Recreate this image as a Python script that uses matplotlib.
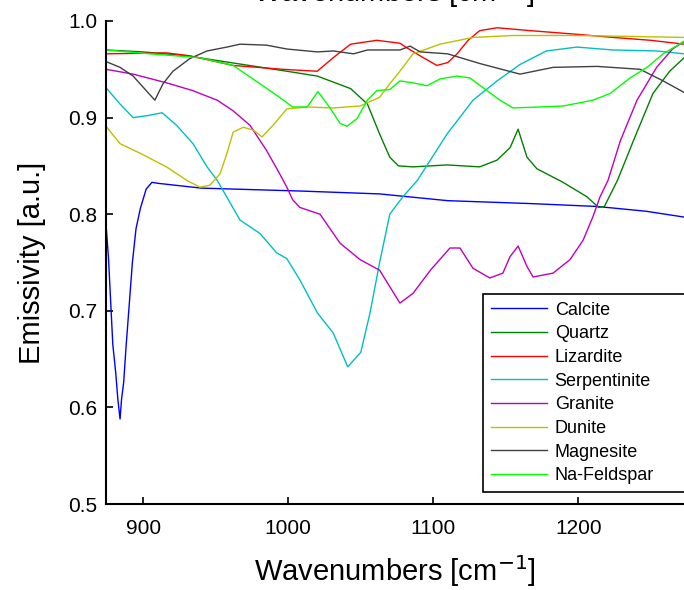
import matplotlib
matplotlib.use("Agg")
import matplotlib.pyplot as plt

plt.rcParams["font.family"] = ["Liberation Sans", "DejaVu Sans"]

# ── Spectra (wavenumber, emissivity) ─────────────────────────────────────────
calcite_x = [874.3, 876, 877.5, 879, 881, 882.5, 884, 885, 886.5, 888, 890, 892.5,
             895, 898, 902, 906, 910, 940, 1008, 1063, 1110, 1167, 1213, 1247, 1273]
calcite_y = [0.79, 0.755, 0.71, 0.665, 0.636, 0.608, 0.588, 0.608, 0.626, 0.66, 0.70, 0.75,
             0.785, 0.806, 0.826, 0.833, 0.832, 0.827, 0.824, 0.821, 0.814, 0.811, 0.808, 0.803, 0.797]

quartz_x = [874.3, 900, 930, 960, 999, 1020, 1043, 1054.6, 1063, 1070, 1076, 1086, 1109.5,
            1132, 1144, 1153, 1158.5, 1164.6, 1171.5, 1189.5, 1206, 1214, 1218, 1227, 1238,
            1251.5, 1263, 1273]
quartz_y = [0.97, 0.968, 0.964, 0.957, 0.948, 0.943, 0.93, 0.914, 0.883, 0.859, 0.85, 0.849, 0.851,
            0.849, 0.856, 0.869, 0.888, 0.859, 0.847, 0.833, 0.818, 0.807, 0.808, 0.835, 0.876,
            0.925, 0.948, 0.962]

lizardite_x = [874.3, 916, 932, 962, 996, 1020, 1031, 1043, 1061, 1077, 1082, 1092, 1102.5,
               1110, 1116.4, 1124, 1132, 1144, 1167, 1201, 1224, 1250, 1273]
lizardite_y = [0.966, 0.967, 0.964, 0.954, 0.95, 0.948, 0.962, 0.976, 0.98, 0.977, 0.972, 0.963, 0.954,
               0.957, 0.966, 0.98, 0.99, 0.993, 0.99, 0.986, 0.983, 0.98, 0.976]

serpentinite_x = [874.3, 884, 893, 902.6, 913, 923, 934.3, 944, 951, 966.7, 980.5, 992, 999, 1008,
                  1020, 1031, 1041, 1050, 1056.4, 1063, 1070, 1079, 1089, 1098, 1109.5, 1127.4,
                  1144, 1159.8, 1178, 1199, 1224, 1254, 1273]
serpentinite_y = [0.931, 0.914, 0.90, 0.902, 0.905, 0.892, 0.873, 0.849, 0.835, 0.794, 0.78, 0.76, 0.754, 0.732,
                  0.698, 0.677, 0.642, 0.657, 0.698, 0.75, 0.80, 0.818, 0.835, 0.856, 0.883, 0.918,
                  0.938, 0.955, 0.969, 0.973, 0.97, 0.969, 0.966]

granite_x = [874.3, 893, 916, 934, 951, 962, 973.6, 985, 994, 999, 1003, 1008, 1021.9, 1035.7,
             1049.5, 1063, 1070, 1077, 1086, 1098, 1111.5, 1118.4, 1127.4, 1139, 1148, 1152.9,
             1158.5, 1164.6, 1168.8, 1182.6, 1194.3, 1203.3, 1210, 1215, 1220.5, 1229, 1240.5,
             1254, 1265, 1273]
granite_y = [0.95, 0.945, 0.936, 0.928, 0.918, 0.907, 0.892, 0.866, 0.842, 0.828, 0.815, 0.807, 0.80, 0.77,
             0.753, 0.742, 0.725, 0.708, 0.718, 0.742, 0.765, 0.765, 0.744, 0.734, 0.739, 0.756,
             0.767, 0.746, 0.735, 0.739, 0.753, 0.773, 0.797, 0.818, 0.835, 0.876, 0.918,
             0.952, 0.971, 0.979]

dunite_x = [874.3, 884, 898, 916, 930, 939, 946, 953, 957.7, 962, 969, 976, 981.9, 989.5, 999,
            1013, 1031, 1049.5, 1063, 1070, 1077, 1086, 1104.6, 1127.4, 1155, 1200, 1273]
dunite_y = [0.891, 0.873, 0.863, 0.849, 0.835, 0.828, 0.83, 0.842, 0.863, 0.885, 0.89, 0.887, 0.88, 0.892, 0.909,
            0.911, 0.91, 0.912, 0.921, 0.935, 0.948, 0.966, 0.976, 0.983, 0.985, 0.985, 0.983]

magnesite_x = [874.3, 884, 893, 902, 908, 913.6, 920.5, 932, 944, 957.7, 966.7, 985, 999, 1020,
               1031, 1045, 1054.6, 1077, 1084, 1091, 1110, 1132, 1159.8, 1182.6, 1213, 1242.6,
               1258.5, 1273]
magnesite_y = [0.958, 0.952, 0.943, 0.928, 0.918, 0.935, 0.948, 0.961, 0.969, 0.973, 0.976, 0.975, 0.971, 0.968,
               0.969, 0.966, 0.97, 0.97, 0.974, 0.968, 0.966, 0.956, 0.945, 0.952, 0.953, 0.95,
               0.938, 0.926]

feldspar_x = [874.3, 904.6, 939, 962, 980.5, 994, 1003, 1013, 1020.5, 1028.8, 1035.7, 1040.5,
              1047.4, 1054.6, 1061, 1070, 1077, 1086, 1095.7, 1104.6, 1116.4, 1125.3, 1137, 1146,
              1155, 1173.6, 1189.5, 1210, 1222, 1235.7, 1247.4, 1258.5, 1273]
feldspar_y = [0.97, 0.966, 0.962, 0.954, 0.935, 0.921, 0.911, 0.911, 0.927, 0.91, 0.894, 0.891,
              0.899, 0.918, 0.928, 0.929, 0.938, 0.936, 0.933, 0.94, 0.943, 0.941, 0.928, 0.918,
              0.91, 0.911, 0.912, 0.918, 0.925, 0.941, 0.952, 0.966, 0.979]

names = ["Calcite", "Quartz", "Lizardite", "Serpentinite", "Granite", "Dunite",
         "Magnesite", "Na-Feldspar"]
series = [(calcite_x, calcite_y), (quartz_x, quartz_y), (lizardite_x, lizardite_y),
          (serpentinite_x, serpentinite_y), (granite_x, granite_y), (dunite_x, dunite_y),
          (magnesite_x, magnesite_y), (feldspar_x, feldspar_y)]
# classic MATLAB colour order + bright green
colors = ["#0000ff", "#008000", "#ff0000", "#00bfbf", "#bf00bf", "#bfbf00", "#404040", "#00ff00"]

yticks = [0.5, 0.6, 0.7, 0.8, 0.9, 1.0]
xticks = [900, 1000, 1100, 1200]

# ── Plot ──────────────────────────────────────────────────────────────────────
W, H = 684, 590
fig = plt.figure(figsize=(W / 100, H / 100), dpi=100)
ax = fig.add_axes([106 / W, (H - 504) / H, (W - 106) / W, (504 - 21) / H])

for (xs, ys), name, c in zip(series, names, colors):
    ax.plot(xs, ys, color=c, linewidth=1.0, label=name)

ax.set_xlim(874.3, 1272.9)
ax.set_ylim(0.5, 1.0)
ax.set_xticks(xticks)
ax.set_yticks(yticks)
ax.set_yticklabels([f"{v:.1f}" for v in yticks])
ax.tick_params(direction="in", length=5, width=1.2, labelsize=15)
ax.tick_params(axis="x", pad=11)
ax.tick_params(axis="y", pad=6)
for side in ("top", "right"):
    ax.spines[side].set_visible(False)
for side in ("left", "bottom"):
    ax.spines[side].set_linewidth(1.5)

ax.set_xlabel("Wavenumbers [cm$^{-1}$]", fontsize=21, labelpad=11)
ax.set_ylabel("Emissivity [a.u.]", fontsize=21, labelpad=16)

# top label, mostly cut off by the image edge
fig.text(394 / W, 1 - 2 / H, "Wavenumbers [cm$^{-1}$]", fontsize=21,
         ha="center", va="baseline")

leg = ax.legend(loc="upper left", bbox_to_anchor=(483 / W, 0, 240 / W, 1 - 294 / H),
                bbox_transform=fig.transFigure, mode="expand", borderaxespad=0,
                fontsize=13, fancybox=False, edgecolor="black", framealpha=1,
                handlelength=3.1, handletextpad=0.45, labelspacing=0.37, borderpad=0.42)
leg.get_frame().set_linewidth(1.2)

fig.savefig("out.png", dpi=100)
